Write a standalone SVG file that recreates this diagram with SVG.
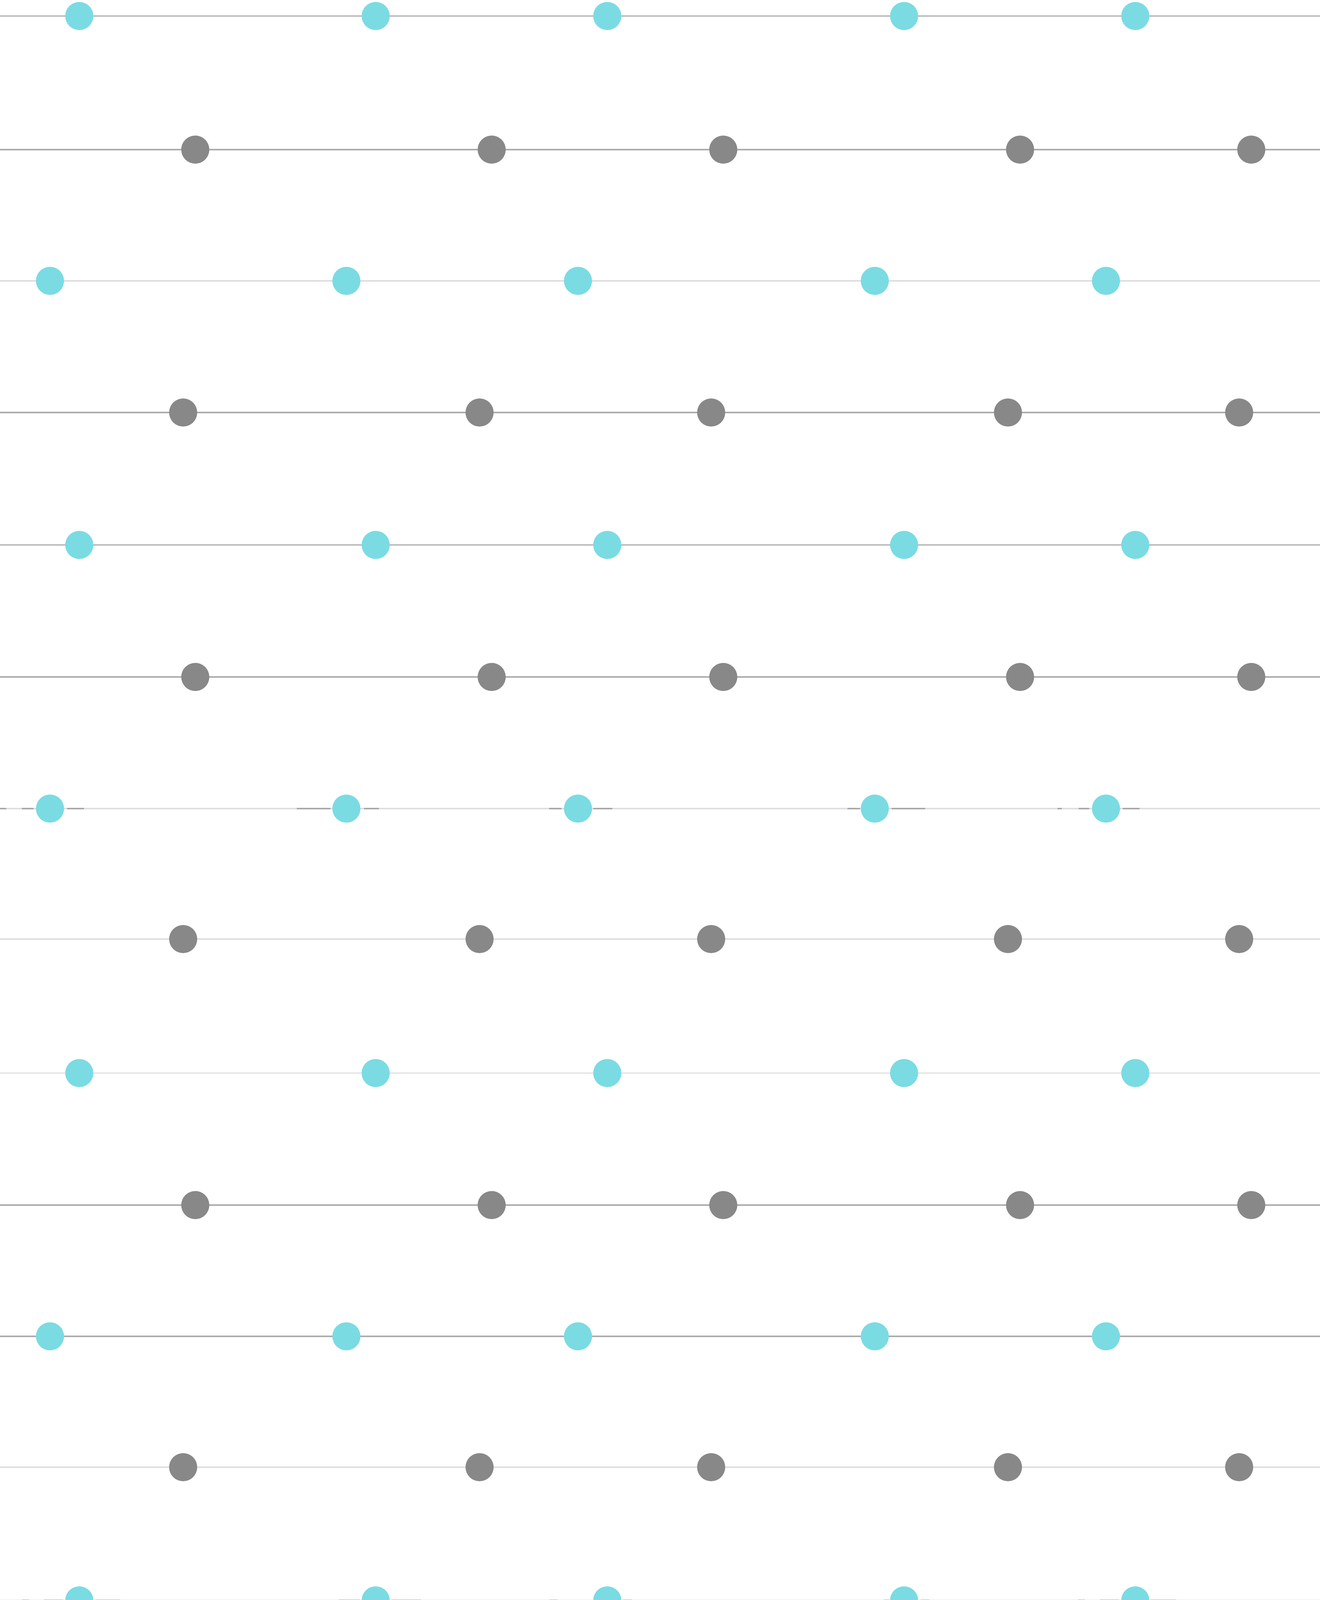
<svg xmlns="http://www.w3.org/2000/svg" width="3380" height="5832" viewBox="0 0 3380 5832">
<style>
.ln{stroke-width:4;fill:none}
.dk{stroke:#ababab}
.md{stroke:#bdbdbd}
.lt{stroke:#dedede}
.lx{stroke:#e6e6e6}
.fr{stroke:#a9a9a9;stroke-width:4}
.cy{fill:#7adbe3}
.gy{fill:#888888}
</style>
<rect width="3380" height="5832" fill="#ffffff"/>
<g id="connectors">
<line class="ln md" x1="0" y1="41" x2="3380" y2="41"/>
<line class="ln dk" x1="0" y1="383" x2="3380" y2="383"/>
<line class="ln lt" x1="0" y1="719" x2="3380" y2="719"/>
<line class="ln dk" x1="0" y1="1056" x2="3380" y2="1056"/>
<line class="ln md" x1="0" y1="1395" x2="3380" y2="1395"/>
<line class="ln dk" x1="0" y1="1733" x2="3380" y2="1733"/>
<line class="ln lt" x1="0" y1="2070" x2="3380" y2="2070"/>
<line class="ln lt" x1="0" y1="2404" x2="3380" y2="2404"/>
<line class="ln lx" x1="0" y1="2747" x2="3380" y2="2747"/>
<line class="ln dk" x1="0" y1="3085" x2="3380" y2="3085"/>
<line class="ln dk" x1="0" y1="3421" x2="3380" y2="3421"/>
<line class="ln lt" x1="0" y1="3756" x2="3380" y2="3756"/>
<line class="ln lx" x1="0" y1="4097" x2="3380" y2="4097"/>
<line class="ln lt" x1="0" y1="4436" x2="3380" y2="4436"/>
<line class="ln dk" x1="0" y1="4773" x2="3380" y2="4773"/>
<line class="ln dk" x1="0" y1="5107" x2="3380" y2="5107"/>
<line class="ln md" x1="0" y1="5448" x2="3380" y2="5448"/>
<line class="ln lt" x1="0" y1="5788" x2="3380" y2="5788"/>
<path class="fr" d="M0 2070H16M56 2070H86M172 2070H215M760 2070H846M932 2070H970M1406 2070H1438M1519 2070H1568M2170 2070H2202M2283 2070H2369M2708 2070H2719M2762 2070H2789M2875 2070H2918"/>
<path class="fr" d="M56 4097H75M112 4097H162M244 4097H308M867 4097H921M1002 4097H1078M1407 4097H1428M1595 4097H1619M2264 4097H2277M2358 4097H2380M2760 4097H2778M2816 4097H2865M2946 4097H3012"/>
</g>
<g id="r0c0"><circle class="cy" cx="203" cy="41" r="36"/></g>
<g id="r0c1"><circle class="cy" cx="962" cy="41" r="36"/></g>
<g id="r0c2"><circle class="cy" cx="1555" cy="41" r="36"/></g>
<g id="r0c3"><circle class="cy" cx="2315" cy="41" r="36"/></g>
<g id="r0c4"><circle class="cy" cx="2907" cy="41" r="36"/></g>
<g id="r1c0"><circle class="gy" cx="500" cy="383" r="36"/></g>
<g id="r1c1"><circle class="gy" cx="1259" cy="383" r="36"/></g>
<g id="r1c2"><circle class="gy" cx="1852" cy="383" r="36"/></g>
<g id="r1c3"><circle class="gy" cx="2612" cy="383" r="36"/></g>
<g id="r1c4"><circle class="gy" cx="3204" cy="383" r="36"/></g>
<g id="r2c0"><circle class="cy" cx="128" cy="719" r="36"/></g>
<g id="r2c1"><circle class="cy" cx="887" cy="719" r="36"/></g>
<g id="r2c2"><circle class="cy" cx="1480" cy="719" r="36"/></g>
<g id="r2c3"><circle class="cy" cx="2240" cy="719" r="36"/></g>
<g id="r2c4"><circle class="cy" cx="2832" cy="719" r="36"/></g>
<g id="r3c0"><circle class="gy" cx="469" cy="1056" r="36"/></g>
<g id="r3c1"><circle class="gy" cx="1228" cy="1056" r="36"/></g>
<g id="r3c2"><circle class="gy" cx="1821" cy="1056" r="36"/></g>
<g id="r3c3"><circle class="gy" cx="2581" cy="1056" r="36"/></g>
<g id="r3c4"><circle class="gy" cx="3173" cy="1056" r="36"/></g>
<g id="r4c0"><circle class="cy" cx="203" cy="1395" r="36"/></g>
<g id="r4c1"><circle class="cy" cx="962" cy="1395" r="36"/></g>
<g id="r4c2"><circle class="cy" cx="1555" cy="1395" r="36"/></g>
<g id="r4c3"><circle class="cy" cx="2315" cy="1395" r="36"/></g>
<g id="r4c4"><circle class="cy" cx="2907" cy="1395" r="36"/></g>
<g id="r5c0"><circle class="gy" cx="500" cy="1733" r="36"/></g>
<g id="r5c1"><circle class="gy" cx="1259" cy="1733" r="36"/></g>
<g id="r5c2"><circle class="gy" cx="1852" cy="1733" r="36"/></g>
<g id="r5c3"><circle class="gy" cx="2612" cy="1733" r="36"/></g>
<g id="r5c4"><circle class="gy" cx="3204" cy="1733" r="36"/></g>
<g id="r6c0"><circle class="cy" cx="128" cy="2070" r="36"/></g>
<g id="r6c1"><circle class="cy" cx="887" cy="2070" r="36"/></g>
<g id="r6c2"><circle class="cy" cx="1480" cy="2070" r="36"/></g>
<g id="r6c3"><circle class="cy" cx="2240" cy="2070" r="36"/></g>
<g id="r6c4"><circle class="cy" cx="2832" cy="2070" r="36"/></g>
<g id="r7c0"><circle class="gy" cx="469" cy="2404" r="36"/></g>
<g id="r7c1"><circle class="gy" cx="1228" cy="2404" r="36"/></g>
<g id="r7c2"><circle class="gy" cx="1821" cy="2404" r="36"/></g>
<g id="r7c3"><circle class="gy" cx="2581" cy="2404" r="36"/></g>
<g id="r7c4"><circle class="gy" cx="3173" cy="2404" r="36"/></g>
<g id="r8c0"><circle class="cy" cx="203" cy="2747" r="36"/></g>
<g id="r8c1"><circle class="cy" cx="962" cy="2747" r="36"/></g>
<g id="r8c2"><circle class="cy" cx="1555" cy="2747" r="36"/></g>
<g id="r8c3"><circle class="cy" cx="2315" cy="2747" r="36"/></g>
<g id="r8c4"><circle class="cy" cx="2907" cy="2747" r="36"/></g>
<g id="r9c0"><circle class="gy" cx="500" cy="3085" r="36"/></g>
<g id="r9c1"><circle class="gy" cx="1259" cy="3085" r="36"/></g>
<g id="r9c2"><circle class="gy" cx="1852" cy="3085" r="36"/></g>
<g id="r9c3"><circle class="gy" cx="2612" cy="3085" r="36"/></g>
<g id="r9c4"><circle class="gy" cx="3204" cy="3085" r="36"/></g>
<g id="r10c0"><circle class="cy" cx="128" cy="3421" r="36"/></g>
<g id="r10c1"><circle class="cy" cx="887" cy="3421" r="36"/></g>
<g id="r10c2"><circle class="cy" cx="1480" cy="3421" r="36"/></g>
<g id="r10c3"><circle class="cy" cx="2240" cy="3421" r="36"/></g>
<g id="r10c4"><circle class="cy" cx="2832" cy="3421" r="36"/></g>
<g id="r11c0"><circle class="gy" cx="469" cy="3756" r="36"/></g>
<g id="r11c1"><circle class="gy" cx="1228" cy="3756" r="36"/></g>
<g id="r11c2"><circle class="gy" cx="1821" cy="3756" r="36"/></g>
<g id="r11c3"><circle class="gy" cx="2581" cy="3756" r="36"/></g>
<g id="r11c4"><circle class="gy" cx="3173" cy="3756" r="36"/></g>
<g id="r12c0"><circle class="cy" cx="203" cy="4097" r="36"/></g>
<g id="r12c1"><circle class="cy" cx="962" cy="4097" r="36"/></g>
<g id="r12c2"><circle class="cy" cx="1555" cy="4097" r="36"/></g>
<g id="r12c3"><circle class="cy" cx="2315" cy="4097" r="36"/></g>
<g id="r12c4"><circle class="cy" cx="2907" cy="4097" r="36"/></g>
<g id="r13c0"><circle class="gy" cx="500" cy="4436" r="36"/></g>
<g id="r13c1"><circle class="gy" cx="1259" cy="4436" r="36"/></g>
<g id="r13c2"><circle class="gy" cx="1852" cy="4436" r="36"/></g>
<g id="r13c3"><circle class="gy" cx="2612" cy="4436" r="36"/></g>
<g id="r13c4"><circle class="gy" cx="3204" cy="4436" r="36"/></g>
<g id="r14c0"><circle class="cy" cx="128" cy="4773" r="36"/></g>
<g id="r14c1"><circle class="cy" cx="887" cy="4773" r="36"/></g>
<g id="r14c2"><circle class="cy" cx="1480" cy="4773" r="36"/></g>
<g id="r14c3"><circle class="cy" cx="2240" cy="4773" r="36"/></g>
<g id="r14c4"><circle class="cy" cx="2832" cy="4773" r="36"/></g>
<g id="r15c0"><circle class="gy" cx="469" cy="5107" r="36"/></g>
<g id="r15c1"><circle class="gy" cx="1228" cy="5107" r="36"/></g>
<g id="r15c2"><circle class="gy" cx="1821" cy="5107" r="36"/></g>
<g id="r15c3"><circle class="gy" cx="2581" cy="5107" r="36"/></g>
<g id="r15c4"><circle class="gy" cx="3173" cy="5107" r="36"/></g>
<g id="r16c0"><circle class="cy" cx="203" cy="5448" r="36"/></g>
<g id="r16c1"><circle class="cy" cx="962" cy="5448" r="36"/></g>
<g id="r16c2"><circle class="cy" cx="1555" cy="5448" r="36"/></g>
<g id="r16c3"><circle class="cy" cx="2315" cy="5448" r="36"/></g>
<g id="r16c4"><circle class="cy" cx="2907" cy="5448" r="36"/></g>
<g id="r17c0"><circle class="gy" cx="500" cy="5788" r="36"/></g>
<g id="r17c1"><circle class="gy" cx="1259" cy="5788" r="36"/></g>
<g id="r17c2"><circle class="gy" cx="1852" cy="5788" r="36"/></g>
<g id="r17c3"><circle class="gy" cx="2612" cy="5788" r="36"/></g>
<g id="r17c4"><circle class="gy" cx="3204" cy="5788" r="36"/></g>
</svg>
